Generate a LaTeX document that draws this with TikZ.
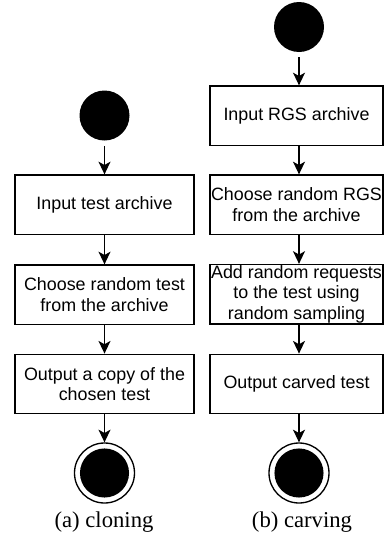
\documentclass[tikz,border=0pt]{standalone}
\usepackage{fontspec}
\setmainfont{Liberation Serif}
\newfontfamily\boxfont{Liberation Sans}
\usetikzlibrary{arrows.meta}
\begin{document}
\begin{tikzpicture}[x=0.75pt,y=-0.75pt,
  actbox/.style={draw, line width=1pt, rectangle, align=center, inner sep=0pt,
    font=\boxfont\fontsize{13.4}{15.4}\selectfont, minimum height=44.6pt},
  leftbox/.style={actbox, minimum width=134.25pt},
  rightbox/.style={actbox, minimum width=129.75pt},
  startdot/.style={circle, fill=black, minimum size=37.5pt, inner sep=0pt},
  enddot/.style={circle, draw, line width=1pt, fill=white, minimum size=45pt, inner sep=0pt,
    path picture={\fill[black] (path picture bounding box.center) circle (18.4pt);}},
  flow/.style={-{Stealth[length=9.5pt,width=9pt,inset=2.5pt]}, line width=1pt},
  capt/.style={font=\fontsize{17}{20}\selectfont, anchor=base}]
\useasboundingbox (0,0) rectangle (384,550);

% (a) cloning
\node[startdot] (sa) at (104.5,115.5) {};
\node[leftbox] (a1) at (104.5,204.75) {Input test archive};
\node[leftbox] (a2) at (104.5,294.75) {Choose random test\\from the archive};
\node[leftbox] (a3) at (104.5,384) {Output a copy of the\\chosen test};
\node[enddot] (ea) at (104.5,473) {};

\draw[flow, shorten <=3.75pt] (sa) -- (a1);
\draw[flow] (a1) -- (a2);
\draw[flow] (a2) -- (a3);
\draw[flow] (a3) -- (ea);

% (b) carving
\node[startdot] (sb) at (299,27) {};
\node[rightbox] (b1) at (296.5,115.75) {Input RGS archive};
\node[rightbox] (b2) at (296.5,204.75) {Choose random RGS\\from the archive};
\node[rightbox] (b3) at (296.5,294.25) {Add random requests\\to the test using\\random sampling};
\node[rightbox] (b4) at (296.5,384) {Output carved test};
\node[enddot] (eb) at (299,473) {};

\draw[flow, shorten <=3.75pt] (sb.south) -- (sb.south |- b1.north);
\draw[flow] (b1.south -| sb.south) -- (b2.north -| sb.south);
\draw[flow] (b2.south -| sb.south) -- (b3.north -| sb.south);
\draw[flow] (b3.south -| sb.south) -- (b4.north -| sb.south);
\draw[flow] (b4.south -| sb.south) -- (eb);

% captions
\node[capt] (ca) at (104,527) {(a) cloning};
\node[capt] (cb) at (302,527) {(b) carving};
\end{tikzpicture}
\end{document}
